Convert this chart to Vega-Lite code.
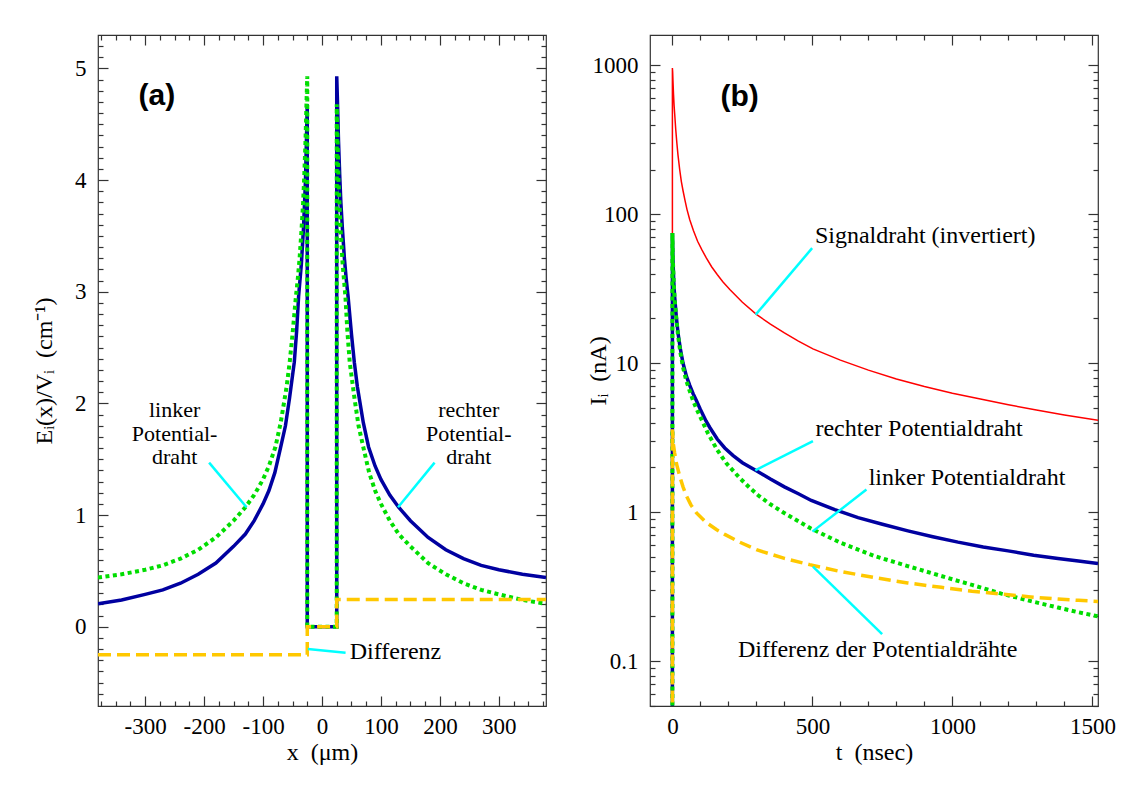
{
  "$schema": "https://vega.github.io/schema/vega-lite/v6.json",
  "padding": {"left": 31, "top": 33, "right": 5, "bottom": 5},
  "bounds": "flush",
  "spacing": 104,
  "background": "white",
  "config": {
    "font": "Liberation Serif",
    "view": {"stroke": "#333", "strokeWidth": 1.2},
    "axis": {
      "domain": false, "grid": false, "tickColor": "#333", "tickWidth": 1.2,
      "labelFont": "Liberation Serif", "labelFontSize": 23, "labelColor": "black",
      "titleFont": "Liberation Serif", "titleFontSize": 24, "titleFontWeight": "normal", "titleColor": "black",
      "labelOverlap": false, "labelBound": false, "labelFlush": false
    }
  },
  "datasets": {
    "a_lines": [
      {"s":"blue","i":0,"x":-380,"y":0.205},{"s":"blue","i":1,"x":-340,"y":0.24},{"s":"blue","i":2,"x":-300,"y":0.29},{"s":"blue","i":3,"x":-270,"y":0.33},{"s":"blue","i":4,"x":-240,"y":0.39},{"s":"blue","i":5,"x":-210,"y":0.47},{"s":"blue","i":6,"x":-180,"y":0.57},{"s":"blue","i":7,"x":-150,"y":0.72},{"s":"blue","i":8,"x":-130,"y":0.83},{"s":"blue","i":9,"x":-115,"y":0.95},{"s":"blue","i":10,"x":-100,"y":1.1},{"s":"blue","i":11,"x":-90,"y":1.22},{"s":"blue","i":12,"x":-80,"y":1.38},{"s":"blue","i":13,"x":-70,"y":1.61},{"s":"blue","i":14,"x":-62,"y":1.8},{"s":"blue","i":15,"x":-55,"y":2.05},{"s":"blue","i":16,"x":-47,"y":2.37},{"s":"blue","i":17,"x":-43,"y":2.65},{"s":"blue","i":18,"x":-39.7,"y":2.96},{"s":"blue","i":19,"x":-35,"y":3.25},{"s":"blue","i":20,"x":-31.5,"y":3.56},{"s":"blue","i":21,"x":-28,"y":4.0},{"s":"blue","i":22,"x":-26,"y":4.45},{"s":"blue","i":23,"x":-25,"y":4.68},{"s":"blue","i":24,"x":-25,"y":0},{"s":"blue","i":25,"x":25,"y":0},{"s":"blue","i":26,"x":25,"y":4.93},{"s":"blue","i":27,"x":26,"y":4.75},{"s":"blue","i":28,"x":28,"y":4.35},{"s":"blue","i":29,"x":30,"y":4.05},{"s":"blue","i":30,"x":32,"y":3.8},{"s":"blue","i":31,"x":34.7,"y":3.56},{"s":"blue","i":32,"x":38,"y":3.3},{"s":"blue","i":33,"x":41,"y":3.12},{"s":"blue","i":34,"x":44.2,"y":2.96},{"s":"blue","i":35,"x":50,"y":2.62},{"s":"blue","i":36,"x":54.8,"y":2.37},{"s":"blue","i":37,"x":60,"y":2.15},{"s":"blue","i":38,"x":70,"y":1.83},{"s":"blue","i":39,"x":79,"y":1.61},{"s":"blue","i":40,"x":90,"y":1.44},{"s":"blue","i":41,"x":100,"y":1.32},{"s":"blue","i":42,"x":115,"y":1.18},{"s":"blue","i":43,"x":130,"y":1.07},{"s":"blue","i":44,"x":150,"y":0.95},{"s":"blue","i":45,"x":180,"y":0.8},{"s":"blue","i":46,"x":210,"y":0.69},{"s":"blue","i":47,"x":240,"y":0.61},{"s":"blue","i":48,"x":270,"y":0.55},{"s":"blue","i":49,"x":300,"y":0.51},{"s":"blue","i":50,"x":340,"y":0.47},{"s":"blue","i":51,"x":380,"y":0.44},
      {"s":"green","i":0,"x":-380,"y":0.44},{"s":"green","i":1,"x":-340,"y":0.47},{"s":"green","i":2,"x":-300,"y":0.51},{"s":"green","i":3,"x":-270,"y":0.55},{"s":"green","i":4,"x":-240,"y":0.61},{"s":"green","i":5,"x":-210,"y":0.69},{"s":"green","i":6,"x":-180,"y":0.8},{"s":"green","i":7,"x":-150,"y":0.95},{"s":"green","i":8,"x":-130,"y":1.07},{"s":"green","i":9,"x":-115,"y":1.18},{"s":"green","i":10,"x":-100,"y":1.32},{"s":"green","i":11,"x":-90,"y":1.44},{"s":"green","i":12,"x":-79,"y":1.61},{"s":"green","i":13,"x":-70,"y":1.83},{"s":"green","i":14,"x":-60,"y":2.15},{"s":"green","i":15,"x":-54.8,"y":2.37},{"s":"green","i":16,"x":-50,"y":2.62},{"s":"green","i":17,"x":-44.2,"y":2.96},{"s":"green","i":18,"x":-41,"y":3.12},{"s":"green","i":19,"x":-38,"y":3.3},{"s":"green","i":20,"x":-34.7,"y":3.56},{"s":"green","i":21,"x":-32,"y":3.8},{"s":"green","i":22,"x":-30,"y":4.05},{"s":"green","i":23,"x":-28,"y":4.35},{"s":"green","i":24,"x":-26,"y":4.75},{"s":"green","i":25,"x":-25,"y":4.93},{"s":"green","i":26,"x":-25,"y":0},{"s":"green","i":27,"x":25,"y":0},{"s":"green","i":28,"x":25,"y":4.68},{"s":"green","i":29,"x":26,"y":4.45},{"s":"green","i":30,"x":28,"y":4.0},{"s":"green","i":31,"x":31.5,"y":3.56},{"s":"green","i":32,"x":35,"y":3.25},{"s":"green","i":33,"x":39.7,"y":2.96},{"s":"green","i":34,"x":43,"y":2.65},{"s":"green","i":35,"x":47,"y":2.37},{"s":"green","i":36,"x":55,"y":2.05},{"s":"green","i":37,"x":62,"y":1.8},{"s":"green","i":38,"x":70,"y":1.61},{"s":"green","i":39,"x":80,"y":1.38},{"s":"green","i":40,"x":90,"y":1.22},{"s":"green","i":41,"x":100,"y":1.1},{"s":"green","i":42,"x":115,"y":0.95},{"s":"green","i":43,"x":130,"y":0.83},{"s":"green","i":44,"x":150,"y":0.72},{"s":"green","i":45,"x":180,"y":0.57},{"s":"green","i":46,"x":210,"y":0.47},{"s":"green","i":47,"x":240,"y":0.39},{"s":"green","i":48,"x":270,"y":0.33},{"s":"green","i":49,"x":300,"y":0.29},{"s":"green","i":50,"x":340,"y":0.24},{"s":"green","i":51,"x":380,"y":0.205},
      {"s":"yellow","i":0,"x":-380,"y":-0.25},{"s":"yellow","i":1,"x":-25,"y":-0.25},{"s":"yellow","i":2,"x":-25,"y":0},{"s":"yellow","i":3,"x":25,"y":0},{"s":"yellow","i":4,"x":25,"y":0.245},{"s":"yellow","i":5,"x":380,"y":0.245}
    ],
    "a_lead": [
      {"id":1,"x":-191.5,"y":1.47},{"id":1,"x":-128,"y":1.07},
      {"id":2,"x":191,"y":1.47},{"id":2,"x":129,"y":1.07},
      {"id":3,"x":-24,"y":-0.2},{"id":3,"x":40,"y":-0.233}
    ],
    "a_text": [
      {"k":"c","x":-250,"y":1.94,"t":"linker\nPotential-\ndraht"},
      {"k":"c","x":249,"y":1.94,"t":"rechter\nPotential-\ndraht"},
      {"k":"l","x":47,"y":-0.23,"t":"Differenz"},
      {"k":"p","x":-280,"y":4.75,"t":"(a)"}
    ],
    "b_lines": [
      {"s":"red","i":0,"t":0,"I":0.04},{"s":"red","i":1,"t":0,"I":960},{"s":"red","i":2,"t":1,"I":900},{"s":"red","i":3,"t":2,"I":790},{"s":"red","i":4,"t":4,"I":640},{"s":"red","i":5,"t":6,"I":540},{"s":"red","i":6,"t":8,"I":477},{"s":"red","i":7,"t":12,"I":370},{"s":"red","i":8,"t":16,"I":300},{"s":"red","i":9,"t":20,"I":250},{"s":"red","i":10,"t":26,"I":200},{"s":"red","i":11,"t":32,"I":166},{"s":"red","i":12,"t":38,"I":144},{"s":"red","i":13,"t":45,"I":124},{"s":"red","i":14,"t":52,"I":108},{"s":"red","i":15,"t":62,"I":92},{"s":"red","i":16,"t":75,"I":78},{"s":"red","i":17,"t":90,"I":66},{"s":"red","i":18,"t":105,"I":58},{"s":"red","i":19,"t":121,"I":51},{"s":"red","i":20,"t":140,"I":44.5},{"s":"red","i":21,"t":160,"I":39.5},{"s":"red","i":22,"t":180,"I":35.3},{"s":"red","i":23,"t":205,"I":31.3},{"s":"red","i":24,"t":250,"I":25.7},{"s":"red","i":25,"t":300,"I":21.3},{"s":"red","i":26,"t":350,"I":18.3},{"s":"red","i":27,"t":400,"I":16},{"s":"red","i":28,"t":450,"I":14.1},{"s":"red","i":29,"t":502,"I":12.5},{"s":"red","i":30,"t":600,"I":10.5},{"s":"red","i":31,"t":700,"I":9.0},{"s":"red","i":32,"t":800,"I":7.85},{"s":"red","i":33,"t":900,"I":6.98},{"s":"red","i":34,"t":1000,"I":6.3},{"s":"red","i":35,"t":1100,"I":5.75},{"s":"red","i":36,"t":1200,"I":5.27},{"s":"red","i":37,"t":1300,"I":4.86},{"s":"red","i":38,"t":1400,"I":4.5},{"s":"red","i":39,"t":1520,"I":4.15},
      {"s":"blue","i":0,"t":0,"I":0.04},{"s":"blue","i":1,"t":0,"I":75},{"s":"blue","i":2,"t":2,"I":50},{"s":"blue","i":3,"t":5,"I":35},{"s":"blue","i":4,"t":8,"I":28},{"s":"blue","i":5,"t":14,"I":20.5},{"s":"blue","i":6,"t":20,"I":16},{"s":"blue","i":7,"t":28,"I":12.6},{"s":"blue","i":8,"t":38,"I":10},{"s":"blue","i":9,"t":50,"I":8.2},{"s":"blue","i":10,"t":62,"I":7.1},{"s":"blue","i":11,"t":74,"I":6.25},{"s":"blue","i":12,"t":86,"I":5.6},{"s":"blue","i":13,"t":100,"I":4.9},{"s":"blue","i":14,"t":120,"I":4.1},{"s":"blue","i":15,"t":133,"I":3.72},{"s":"blue","i":16,"t":160,"I":3.1},{"s":"blue","i":17,"t":187,"I":2.7},{"s":"blue","i":18,"t":217,"I":2.4},{"s":"blue","i":19,"t":250,"I":2.15},{"s":"blue","i":20,"t":300,"I":1.9},{"s":"blue","i":21,"t":350,"I":1.67},{"s":"blue","i":22,"t":400,"I":1.48},{"s":"blue","i":23,"t":450,"I":1.33},{"s":"blue","i":24,"t":496,"I":1.2},{"s":"blue","i":25,"t":580,"I":1.04},{"s":"blue","i":26,"t":663,"I":0.92},{"s":"blue","i":27,"t":750,"I":0.83},{"s":"blue","i":28,"t":841,"I":0.75},{"s":"blue","i":29,"t":930,"I":0.685},{"s":"blue","i":30,"t":1020,"I":0.63},{"s":"blue","i":31,"t":1110,"I":0.585},{"s":"blue","i":32,"t":1199,"I":0.55},{"s":"blue","i":33,"t":1290,"I":0.515},{"s":"blue","i":34,"t":1377,"I":0.489},{"s":"blue","i":35,"t":1450,"I":0.47},{"s":"blue","i":36,"t":1520,"I":0.452},
      {"s":"green","i":0,"t":0,"I":0.04},{"s":"green","i":1,"t":0,"I":75},{"s":"green","i":2,"t":2,"I":48},{"s":"green","i":3,"t":5,"I":34},{"s":"green","i":4,"t":8,"I":27},{"s":"green","i":5,"t":14,"I":20},{"s":"green","i":6,"t":20,"I":15.5},{"s":"green","i":7,"t":28,"I":12},{"s":"green","i":8,"t":38,"I":9.4},{"s":"green","i":9,"t":50,"I":7.6},{"s":"green","i":10,"t":62,"I":6.5},{"s":"green","i":11,"t":74,"I":5.6},{"s":"green","i":12,"t":86,"I":4.95},{"s":"green","i":13,"t":100,"I":4.35},{"s":"green","i":14,"t":127,"I":3.38},{"s":"green","i":15,"t":160,"I":2.62},{"s":"green","i":16,"t":193,"I":2.13},{"s":"green","i":17,"t":240,"I":1.7},{"s":"green","i":18,"t":276,"I":1.46},{"s":"green","i":19,"t":306,"I":1.3},{"s":"green","i":20,"t":350,"I":1.13},{"s":"green","i":21,"t":395,"I":1.0},{"s":"green","i":22,"t":450,"I":0.87},{"s":"green","i":23,"t":496,"I":0.775},{"s":"green","i":24,"t":600,"I":0.625},{"s":"green","i":25,"t":722,"I":0.508},{"s":"green","i":26,"t":840,"I":0.435},{"s":"green","i":27,"t":960,"I":0.373},{"s":"green","i":28,"t":1070,"I":0.325},{"s":"green","i":29,"t":1175,"I":0.284},{"s":"green","i":30,"t":1280,"I":0.253},{"s":"green","i":31,"t":1377,"I":0.229},{"s":"green","i":32,"t":1450,"I":0.213},{"s":"green","i":33,"t":1520,"I":0.2},
      {"s":"yellow","i":0,"t":0,"I":0.04},{"s":"yellow","i":1,"t":0,"I":3.6},{"s":"yellow","i":2,"t":3,"I":2.9},{"s":"yellow","i":3,"t":8,"I":2.5},{"s":"yellow","i":4,"t":15,"I":2.1},{"s":"yellow","i":5,"t":26,"I":1.75},{"s":"yellow","i":6,"t":38,"I":1.48},{"s":"yellow","i":7,"t":50,"I":1.29},{"s":"yellow","i":8,"t":66,"I":1.12},{"s":"yellow","i":9,"t":86,"I":0.99},{"s":"yellow","i":10,"t":120,"I":0.855},{"s":"yellow","i":11,"t":157,"I":0.765},{"s":"yellow","i":12,"t":187,"I":0.71},{"s":"yellow","i":13,"t":240,"I":0.63},{"s":"yellow","i":14,"t":300,"I":0.56},{"s":"yellow","i":15,"t":400,"I":0.49},{"s":"yellow","i":16,"t":490,"I":0.445},{"s":"yellow","i":17,"t":600,"I":0.4},{"s":"yellow","i":18,"t":722,"I":0.364},{"s":"yellow","i":19,"t":840,"I":0.335},{"s":"yellow","i":20,"t":960,"I":0.313},{"s":"yellow","i":21,"t":1070,"I":0.295},{"s":"yellow","i":22,"t":1175,"I":0.282},{"s":"yellow","i":23,"t":1280,"I":0.27},{"s":"yellow","i":24,"t":1377,"I":0.261},{"s":"yellow","i":25,"t":1450,"I":0.256},{"s":"yellow","i":26,"t":1520,"I":0.252}
    ],
    "b_lead": [
      {"id":1,"t":499,"I":59.3},{"id":1,"t":297.5,"I":21.2},
      {"id":2,"t":502,"I":3.0},{"id":2,"t":296,"I":1.91},
      {"id":3,"t":693,"I":1.42},{"id":3,"t":500,"I":0.741},
      {"id":4,"t":749,"I":0.152},{"id":4,"t":502,"I":0.431}
    ],
    "b_text": [
      {"k":"l","t":509,"I":71,"s":"Signaldraht (invertiert)"},
      {"k":"l","t":511,"I":3.63,"s":"rechter Potentialdraht"},
      {"k":"l","t":701,"I":1.69,"s":"linker Potentialdraht"},
      {"k":"l","t":234,"I":0.118,"s":"Differenz der Potentialdrähte"},
      {"k":"p","t":240,"I":616,"s":"(b)"}
    ]
  },
  "hconcat": [
    {
      "width": 448, "height": 671,
      "resolve": {"axis": {"x": "independent", "y": "independent"}},
      "layer": [
        {
          "mark": {"type": "rule", "color": "black", "strokeWidth": 1, "strokeDash": [6, 4]},
          "encoding": {"y": {"datum": 0, "type": "quantitative", "scale": {"domain": [-0.71, 5.3], "nice": false, "zero": false}, "axis": null}}
        },
        {
          "data": {"name": "a_lines"},
          "transform": [{"filter": "datum.s === 'blue'"}],
          "mark": {"type": "line", "color": "#0000A0", "strokeWidth": 3.5, "clip": true},
          "encoding": {
            "x": {"field": "x", "type": "quantitative", "scale": {"domain": [-380, 380], "nice": false, "zero": false},
                  "axis": {"orient": "bottom", "title": "x\u00a0\u00a0(\u03bcm)", "titlePadding": -3, "labelPadding": 19,
                           "values": [-375,-350,-325,-300,-275,-250,-225,-200,-175,-150,-125,-100,-75,-50,-25,0,25,50,75,100,125,150,175,200,225,250,275,300,325,350,375],
                           "tickSize": {"condition": {"test": "datum.value % 100 === 0", "value": -10}, "value": -5},
                           "labelExpr": "datum.value % 100 === 0 ? '' + datum.value : ''"}},
            "y": {"field": "y", "type": "quantitative", "scale": {"domain": [-0.71, 5.3], "nice": false, "zero": false},
                  "axis": {"orient": "left", "title": "E\u1d62(x)/V\u1d62\u00a0\u00a0(cm\u207b\u00b9)", "titlePadding": 18, "labelPadding": 22,
                           "values": [-0.6,-0.5,-0.4,-0.3,-0.2,-0.1,0,0.1,0.2,0.3,0.4,0.5,0.6,0.7,0.8,0.9,1,1.1,1.2,1.3,1.4,1.5,1.6,1.7,1.8,1.9,2,2.1,2.2,2.3,2.4,2.5,2.6,2.7,2.8,2.9,3,3.1,3.2,3.3,3.4,3.5,3.6,3.7,3.8,3.9,4,4.1,4.2,4.3,4.4,4.5,4.6,4.7,4.8,4.9,5,5.1,5.2],
                           "tickSize": {"condition": {"test": "abs(datum.value - round(datum.value)) < 0.001", "value": -10}, "value": -5},
                           "labelExpr": "abs(datum.value - round(datum.value)) < 0.001 ? '' + round(datum.value) : ''"}},
            "order": {"field": "i"}
          }
        },
        {
          "data": {"name": "a_lines"},
          "transform": [{"filter": "datum.s === 'green'"}],
          "mark": {"type": "line", "color": "#00DD00", "strokeWidth": 4, "strokeDash": [4, 3.5], "clip": true},
          "encoding": {
            "x": {"field": "x", "type": "quantitative", "scale": {"domain": [-380, 380], "nice": false, "zero": false},
                  "axis": {"orient": "top", "title": null, "labels": false,
                           "values": [-375,-350,-325,-300,-275,-250,-225,-200,-175,-150,-125,-100,-75,-50,-25,0,25,50,75,100,125,150,175,200,225,250,275,300,325,350,375],
                           "tickSize": {"condition": {"test": "datum.value % 100 === 0", "value": -10}, "value": -5}}},
            "y": {"field": "y", "type": "quantitative", "scale": {"domain": [-0.71, 5.3], "nice": false, "zero": false},
                  "axis": {"orient": "right", "title": null, "labels": false,
                           "values": [-0.6,-0.5,-0.4,-0.3,-0.2,-0.1,0,0.1,0.2,0.3,0.4,0.5,0.6,0.7,0.8,0.9,1,1.1,1.2,1.3,1.4,1.5,1.6,1.7,1.8,1.9,2,2.1,2.2,2.3,2.4,2.5,2.6,2.7,2.8,2.9,3,3.1,3.2,3.3,3.4,3.5,3.6,3.7,3.8,3.9,4,4.1,4.2,4.3,4.4,4.5,4.6,4.7,4.8,4.9,5,5.1,5.2],
                           "tickSize": {"condition": {"test": "abs(datum.value - round(datum.value)) < 0.001", "value": -10}, "value": -5}}},
            "order": {"field": "i"}
          }
        },
        {
          "data": {"name": "a_lines"},
          "transform": [{"filter": "datum.s === 'yellow'"}],
          "mark": {"type": "line", "color": "#FFC800", "strokeWidth": 3.5, "strokeDash": [13, 6], "clip": true},
          "encoding": {
            "x": {"field": "x", "type": "quantitative", "scale": {"domain": [-380, 380], "nice": false, "zero": false}, "axis": null},
            "y": {"field": "y", "type": "quantitative", "scale": {"domain": [-0.71, 5.3], "nice": false, "zero": false}, "axis": null},
            "order": {"field": "i"}
          }
        },
        {
          "data": {"name": "a_lead"},
          "mark": {"type": "line", "color": "#00FFFF", "strokeWidth": 2.5},
          "encoding": {
            "x": {"field": "x", "type": "quantitative", "scale": {"domain": [-380, 380], "nice": false, "zero": false}, "axis": null},
            "y": {"field": "y", "type": "quantitative", "scale": {"domain": [-0.71, 5.3], "nice": false, "zero": false}, "axis": null},
            "detail": {"field": "id", "type": "nominal"}
          }
        },
        {
          "data": {"name": "a_text"},
          "transform": [{"filter": "datum.k === 'c'"}],
          "mark": {"type": "text", "font": "Liberation Serif", "fontSize": 22, "align": "center", "baseline": "middle", "color": "black", "lineBreak": "\n", "lineHeight": 23.5},
          "encoding": {
            "x": {"field": "x", "type": "quantitative", "scale": {"domain": [-380, 380], "nice": false, "zero": false}, "axis": null},
            "y": {"field": "y", "type": "quantitative", "scale": {"domain": [-0.71, 5.3], "nice": false, "zero": false}, "axis": null},
            "text": {"field": "t"}
          }
        },
        {
          "data": {"name": "a_text"},
          "transform": [{"filter": "datum.k === 'l'"}],
          "mark": {"type": "text", "font": "Liberation Serif", "fontSize": 24, "align": "left", "baseline": "middle", "color": "black"},
          "encoding": {
            "x": {"field": "x", "type": "quantitative", "scale": {"domain": [-380, 380], "nice": false, "zero": false}, "axis": null},
            "y": {"field": "y", "type": "quantitative", "scale": {"domain": [-0.71, 5.3], "nice": false, "zero": false}, "axis": null},
            "text": {"field": "t"}
          }
        },
        {
          "data": {"name": "a_text"},
          "transform": [{"filter": "datum.k === 'p'"}],
          "mark": {"type": "text", "font": "Liberation Sans", "fontSize": 30, "fontWeight": "bold", "align": "center", "baseline": "middle", "color": "black"},
          "encoding": {
            "x": {"field": "x", "type": "quantitative", "scale": {"domain": [-380, 380], "nice": false, "zero": false}, "axis": null},
            "y": {"field": "y", "type": "quantitative", "scale": {"domain": [-0.71, 5.3], "nice": false, "zero": false}, "axis": null},
            "text": {"field": "t"}
          }
        }
      ]
    },
    {
      "width": 448, "height": 671,
      "resolve": {"axis": {"x": "independent", "y": "independent"}},
      "layer": [
        {
          "data": {"name": "b_lines"},
          "transform": [{"filter": "datum.s === 'red'"}],
          "mark": {"type": "line", "color": "#FF0000", "strokeWidth": 1.5, "clip": true},
          "encoding": {
            "x": {"field": "t", "type": "quantitative", "scale": {"domain": [-80, 1520], "nice": false, "zero": false}, "axis": null},
            "y": {"field": "I", "type": "quantitative", "scale": {"type": "log", "domain": [0.05, 1600], "nice": false}, "axis": null},
            "order": {"field": "i"}
          }
        },
        {
          "data": {"name": "b_lines"},
          "transform": [{"filter": "datum.s === 'blue'"}],
          "mark": {"type": "line", "color": "#0000A0", "strokeWidth": 3.5, "clip": true},
          "encoding": {
            "x": {"field": "t", "type": "quantitative", "scale": {"domain": [-80, 1520], "nice": false, "zero": false},
                  "axis": {"orient": "bottom", "title": "t\u00a0\u00a0(nsec)", "titlePadding": -3, "labelPadding": 19,
                           "values": [0,100,200,300,400,500,600,700,800,900,1000,1100,1200,1300,1400,1500],
                           "tickSize": {"condition": {"test": "datum.value % 500 === 0", "value": -10}, "value": -5},
                           "labelExpr": "datum.value % 500 === 0 ? '' + datum.value : ''"}},
            "y": {"field": "I", "type": "quantitative", "scale": {"type": "log", "domain": [0.05, 1600], "nice": false},
                  "axis": {"orient": "left", "title": "I\u1d62\u00a0\u00a0(nA)", "titlePadding": -18, "labelPadding": 22,
                           "values": [0.05,0.06,0.07,0.08,0.09,0.1,0.2,0.3,0.4,0.5,0.6,0.7,0.8,0.9,1,2,3,4,5,6,7,8,9,10,20,30,40,50,60,70,80,90,100,200,300,400,500,600,700,800,900,1000],
                           "tickSize": {"condition": {"test": "indexof([0.1,1,10,100,1000], datum.value) >= 0", "value": -10}, "value": -5},
                           "labelExpr": "indexof([0.1,1,10,100,1000], datum.value) >= 0 ? '' + datum.value : ''"}},
            "order": {"field": "i"}
          }
        },
        {
          "data": {"name": "b_lines"},
          "transform": [{"filter": "datum.s === 'green'"}],
          "mark": {"type": "line", "color": "#00DD00", "strokeWidth": 4, "strokeDash": [4, 3.5], "clip": true},
          "encoding": {
            "x": {"field": "t", "type": "quantitative", "scale": {"domain": [-80, 1520], "nice": false, "zero": false},
                  "axis": {"orient": "top", "title": null, "labels": false,
                           "values": [0,100,200,300,400,500,600,700,800,900,1000,1100,1200,1300,1400,1500],
                           "tickSize": {"condition": {"test": "datum.value % 500 === 0", "value": -10}, "value": -5}}},
            "y": {"field": "I", "type": "quantitative", "scale": {"type": "log", "domain": [0.05, 1600], "nice": false},
                  "axis": {"orient": "right", "title": null, "labels": false,
                           "values": [0.05,0.06,0.07,0.08,0.09,0.1,0.2,0.3,0.4,0.5,0.6,0.7,0.8,0.9,1,2,3,4,5,6,7,8,9,10,20,30,40,50,60,70,80,90,100,200,300,400,500,600,700,800,900,1000],
                           "tickSize": {"condition": {"test": "indexof([0.1,1,10,100,1000], datum.value) >= 0", "value": -10}, "value": -5}}},
            "order": {"field": "i"}
          }
        },
        {
          "data": {"name": "b_lines"},
          "transform": [{"filter": "datum.s === 'yellow'"}],
          "mark": {"type": "line", "color": "#FFC800", "strokeWidth": 3.5, "strokeDash": [12, 6], "clip": true},
          "encoding": {
            "x": {"field": "t", "type": "quantitative", "scale": {"domain": [-80, 1520], "nice": false, "zero": false}, "axis": null},
            "y": {"field": "I", "type": "quantitative", "scale": {"type": "log", "domain": [0.05, 1600], "nice": false}, "axis": null},
            "order": {"field": "i"}
          }
        },
        {
          "data": {"name": "b_lead"},
          "mark": {"type": "line", "color": "#00FFFF", "strokeWidth": 2.5},
          "encoding": {
            "x": {"field": "t", "type": "quantitative", "scale": {"domain": [-80, 1520], "nice": false, "zero": false}, "axis": null},
            "y": {"field": "I", "type": "quantitative", "scale": {"type": "log", "domain": [0.05, 1600], "nice": false}, "axis": null},
            "detail": {"field": "id", "type": "nominal"}
          }
        },
        {
          "data": {"name": "b_text"},
          "transform": [{"filter": "datum.k === 'l'"}],
          "mark": {"type": "text", "font": "Liberation Serif", "fontSize": 24, "align": "left", "baseline": "middle", "color": "black"},
          "encoding": {
            "x": {"field": "t", "type": "quantitative", "scale": {"domain": [-80, 1520], "nice": false, "zero": false}, "axis": null},
            "y": {"field": "I", "type": "quantitative", "scale": {"type": "log", "domain": [0.05, 1600], "nice": false}, "axis": null},
            "text": {"field": "s"}
          }
        },
        {
          "data": {"name": "b_text"},
          "transform": [{"filter": "datum.k === 'p'"}],
          "mark": {"type": "text", "font": "Liberation Sans", "fontSize": 30, "fontWeight": "bold", "align": "center", "baseline": "middle", "color": "black"},
          "encoding": {
            "x": {"field": "t", "type": "quantitative", "scale": {"domain": [-80, 1520], "nice": false, "zero": false}, "axis": null},
            "y": {"field": "I", "type": "quantitative", "scale": {"type": "log", "domain": [0.05, 1600], "nice": false}, "axis": null},
            "text": {"field": "s"}
          }
        }
      ]
    }
  ]
}
